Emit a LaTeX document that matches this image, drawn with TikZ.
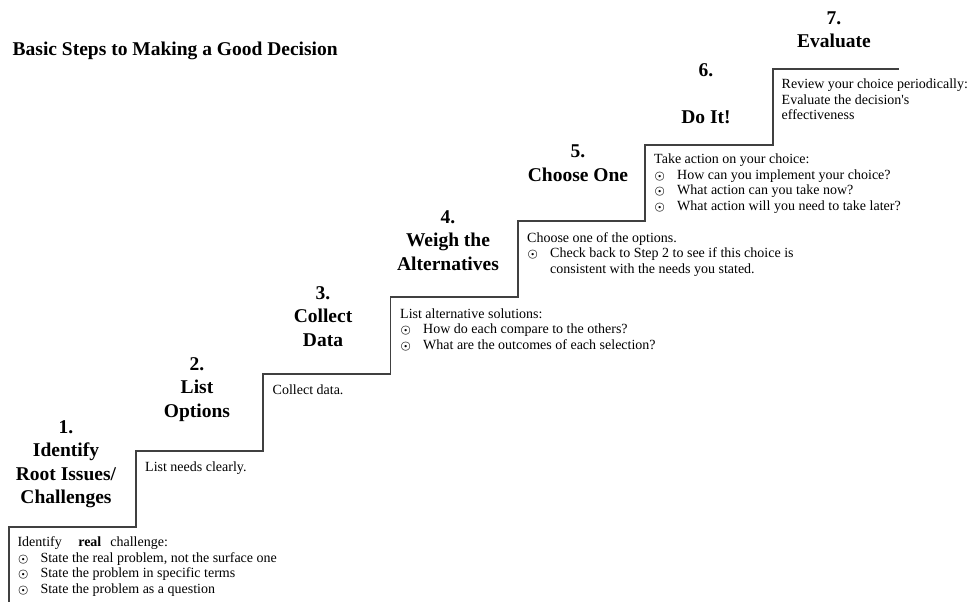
\documentclass[tikz,border=0pt]{standalone}
\usepackage{xcolor}
\usepackage{amsmath}
\usepackage{bm}
\usepackage{fontspec}
\setmainfont{Liberation Serif}
\newcommand{\puce}{\makebox[23pt][l]{\hspace{0.5pt}\scalebox{0.8}{$\bm{\odot}$}}}
\begin{document}
\begin{tikzpicture}[x=1pt,y=-1pt,
    marche/.style={draw=black!75, line width=1.1pt},
    titre/.style={anchor=base, align=center, inner sep=0pt, font=\fontsize{19.5}{23.5}\selectfont\bfseries},
    texte/.style={anchor=base west, align=left, inner sep=0pt, font=\fontsize{14}{15.5}\selectfont}]
    \useasboundingbox (0,0) rectangle (969,602);
    % l'escalier
    \draw[marche] (9,602) -- (9,527) -- (136,527) -- (136,451) -- (263,451) -- (263,374)
        -- (390.5,374) -- (390.5,297) -- (518,297) -- (518,221) -- (645,221) -- (645,145)
        -- (773,145) -- (773,69) -- (899,69);
    \node[titre, anchor=base west] (titre) at (12.5,56) {Basic Steps to Making a Good Decision};
    % les marches (base = derniere ligne)
    \node[titre] (e1) at (66,503.5) {1.\\Identify\\Root Issues/\\Challenges};
    \node[titre] (e2) at (197,417) {2.\\List\\Options};
    \node[titre] (e3) at (323,346) {3.\\Collect\\Data};
    \node[titre] (e4) at (448,270) {4.\\Weigh the\\Alternatives};
    \node[titre] (e5) at (578,181) {5.\\Choose One};
    \node[titre] (e6) at (706,123.5) {6.\\[23.5pt]Do It!};
    \node[titre] (e7) at (834,48) {7.\\Evaluate};
    % les textes
    \node[texte] (t1) at (17.3,593) {Identify\hspace{16.5pt}\textbf{real}\hspace{9pt}challenge:\\
        \puce State the real problem, not the surface one\\
        \puce State the problem in specific terms\\
        \puce State the problem as a question};
    \node[texte] (t2) at (145,471) {List needs clearly.};
    \node[texte] (t3) at (272.5,394) {Collect data.};
    \node[texte] (t4) at (400,349) {List alternative solutions:\\
        \puce How do each compare to the others?\\
        \puce What are the outcomes of each selection?};
    \node[texte] (t5) at (527,273) {Choose one of the options.\\
        \puce Check back to Step 2 to see if this choice is\\
        \hspace*{23pt}consistent with the needs you stated.};
    \node[texte] (t6) at (654,210) {Take action on your choice:\\
        \puce How can you implement your choice?\\
        \puce What action can you take now?\\
        \puce What action will you need to take later?};
    \node[texte] (t7) at (781.5,119.5) {Review your choice periodically:\\
        Evaluate the decision\textquotesingle s\\effectiveness};
\end{tikzpicture}
\end{document}
